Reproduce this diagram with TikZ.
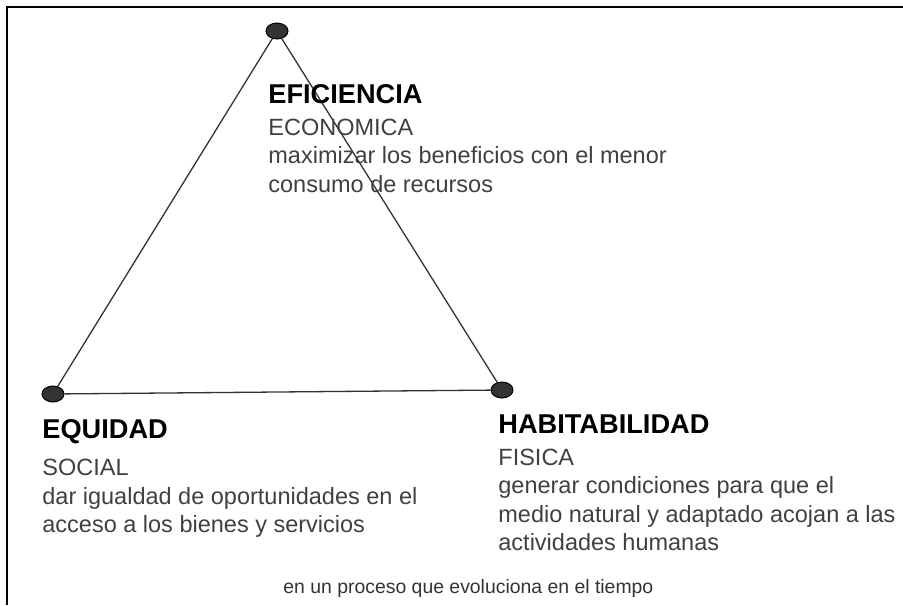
\documentclass[tikz,border=0pt]{standalone}
\usepackage{fontspec}
\setmainfont{Liberation Sans}
\usetikzlibrary{positioning, shapes.geometric}

\tikzset{
    vertex/.style={ellipse, draw=black, fill=black!80, line width=0.5pt,
        minimum width=11pt, minimum height=8pt, inner sep=0pt},
    side/.style={draw=black!80, line width=0.65pt},
    titulo/.style={anchor=base west, inner sep=0pt,
        font=\fontsize{13.6}{15}\selectfont\bfseries},
    texto/.style={align=left, inner sep=0pt, text=black!75,
        font=\fontsize{11.75}{14.25}\selectfont},
    nota/.style={anchor=base west, inner sep=0pt, text=black!80,
        font=\fontsize{9.7}{11}\selectfont},
}

\begin{document}
\begin{tikzpicture}[x=0.5pt, y=-0.5pt]
    \useasboundingbox (0,0) rectangle (903,605);
    \draw[line width=1pt] (7,605) |- (903,7);

    % vertices
    \node[vertex] (ef) at (277,31) {};
    \node[vertex] (eq) at (53,394) {};
    \node[vertex] (hab) at (502,390) {};

    \draw[side]
        (ef) edge (eq)
        (eq) edge (hab)
        (hab) edge (ef)
       ;

    % labels
    \node[titulo] (efT) at (268,103) {EFICIENCIA};
    \node[texto, below right=7.5pt and 0pt of efT.south west] (efD)
        {ECONOMICA\\maximizar los beneficios con el menor\\consumo de recursos};

    \node[titulo] (eqT) at (42,438) {EQUIDAD};
    \node[texto, below right=7.5pt and 0pt of eqT.south west] (eqD)
        {SOCIAL\\dar igualdad de oportunidades en el\\acceso a los bienes y servicios};

    \node[titulo] (habT) at (498,433) {HABITABILIDAD};
    \node[texto, below right=7.5pt and 0pt of habT.south west] (habD)
        {FISICA\\generar condiciones para que el\\medio natural y adaptado acojan a las\\actividades humanas};

    \node[nota] (tiempo) at (283,593) {en un proceso que evoluciona en el tiempo};
\end{tikzpicture}
\end{document}
